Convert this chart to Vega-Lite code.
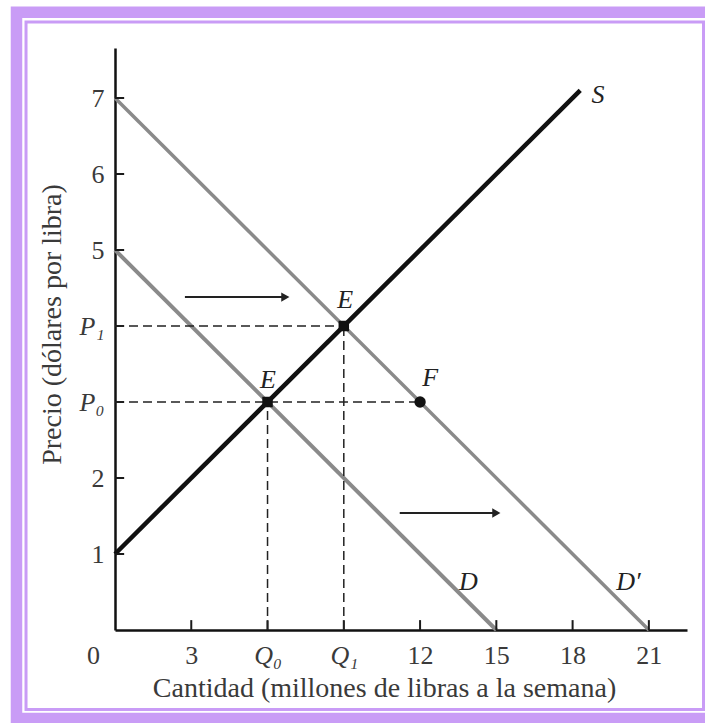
{
  "$schema": "https://vega.github.io/schema/vega-lite/v6.json",
  "width": 572,
  "height": 582,
  "autosize": "none",
  "padding": {"left": 115, "top": 48, "right": 18, "bottom": 93},
  "background": "white",
  "view": {"stroke": null},
  "config": {"font": "Liberation Serif"},
  "datasets": {
    "curves": [
      {"name": "S", "q": 0, "p": 1, "q2": 18.3, "p2": 7.1},
      {"name": "D", "q": 0, "p": 5, "q2": 15, "p2": 0},
      {"name": "D'", "q": 0, "p": 7, "q2": 21, "p2": 0}
    ],
    "guides": [
      {"q": 0, "p": 4, "q2": 9, "p2": 4},
      {"q": 0, "p": 3, "q2": 12, "p2": 3},
      {"q": 6, "p": 0, "q2": 6, "p2": 3},
      {"q": 9, "p": 0, "q2": 9, "p2": 4}
    ],
    "ticks": [
      {"q": 3, "p": 0, "q2": 3, "p2": 0.13},
      {"q": 6, "p": 0, "q2": 6, "p2": 0.13},
      {"q": 9, "p": 0, "q2": 9, "p2": 0.13},
      {"q": 12, "p": 0, "q2": 12, "p2": 0.13},
      {"q": 15, "p": 0, "q2": 15, "p2": 0.13},
      {"q": 18, "p": 0, "q2": 18, "p2": 0.13},
      {"q": 21, "p": 0, "q2": 21, "p2": 0.13},
      {"q": 0, "p": 1, "q2": 0.36, "p2": 1},
      {"q": 0, "p": 2, "q2": 0.36, "p2": 2},
      {"q": 0, "p": 3, "q2": 0.36, "p2": 3},
      {"q": 0, "p": 4, "q2": 0.36, "p2": 4},
      {"q": 0, "p": 5, "q2": 0.36, "p2": 5},
      {"q": 0, "p": 6, "q2": 0.36, "p2": 6},
      {"q": 0, "p": 7, "q2": 0.36, "p2": 7}
    ],
    "arrows": [
      {"q": 2.75, "p": 4.38, "q2": 6.7, "p2": 4.38},
      {"q": 11.2, "p": 1.54, "q2": 15.0, "p2": 1.54}
    ],
    "points": [
      {"name": "E0", "kind": "square", "q": 6, "p": 3},
      {"name": "E1", "kind": "square", "q": 9, "p": 4},
      {"name": "F", "kind": "circle", "q": 12, "p": 3}
    ],
    "labels": [
      {"label": "S", "q": 19.0, "p": 7.04},
      {"label": "D", "q": 13.9, "p": 0.63},
      {"label": "D′", "q": 20.2, "p": 0.63},
      {"label": "E", "q": 9.05, "p": 4.34},
      {"label": "E", "q": 6.02, "p": 3.29},
      {"label": "F", "q": 12.4, "p": 3.32}
    ],
    "frame": [{"id": 1}]
  },
  "layer": [
    {
      "data": {"name": "curves"},
      "mark": {"type": "rule", "strokeCap": "butt"},
      "encoding": {
        "x": {
          "field": "q", "type": "quantitative",
          "scale": {"domain": [0, 22.5], "nice": false, "zero": false},
          "title": "Cantidad (millones de libras a la semana)",
          "axis": {
            "values": [0, 3, 6, 9, 12, 15, 18, 21],
            "format": "d",
            "labelExpr": "datum.value == 6 ? 'Q₀' : datum.value == 9 ? 'Q₁' : datum.label",
            "labelFontStyle": {"condition": {"test": "datum.value == 6 || datum.value == 9", "value": "italic"}, "value": "normal"},
            "labelOffset": {"condition": {"test": "datum.value == 0", "value": -22}, "value": 0},
            "labelFont": "Liberation Serif",
            "labelFontSize": 26,
            "labelColor": "#3a3a3a",
            "labelPadding": 12,
            "labelBaseline": "top",
            "labelFlush": false,
            "domainColor": "#111111",
            "domainWidth": 2.5,
            "ticks": false,
            "grid": false,
            "titleFont": "Liberation Serif",
            "titleFontSize": 28,
            "titleFontWeight": "normal",
            "titleColor": "#3a3a3a",
            "titleX": 269,
            "titleY": 44,
            "titleBaseline": "top"
          }
        },
        "y": {
          "field": "p", "type": "quantitative",
          "scale": {"domain": [0, 7.658], "nice": false, "zero": false},
          "title": "Precio (dólares por libra)",
          "axis": {
            "values": [1, 2, 3, 4, 5, 6, 7],
            "format": "d",
            "labelExpr": "datum.value == 3 ? 'P₀' : datum.value == 4 ? 'P₁' : datum.label",
            "labelFontStyle": {"condition": {"test": "datum.value == 3 || datum.value == 4", "value": "italic"}, "value": "normal"},
            "labelFont": "Liberation Serif",
            "labelFontSize": 26,
            "labelColor": "#3a3a3a",
            "labelPadding": 11,
            "labelFlush": false,
            "domainColor": "#111111",
            "domainWidth": 2.5,
            "ticks": false,
            "grid": false,
            "titleFont": "Liberation Serif",
            "titleFontSize": 28,
            "titleFontWeight": "normal",
            "titleColor": "#3a3a3a",
            "titleX": -63,
            "titleY": 276,
            "titleBaseline": "middle"
          }
        },
        "x2": {"field": "q2"},
        "y2": {"field": "p2"},
        "color": {"field": "name", "type": "nominal", "scale": {"domain": ["S", "D", "D'"], "range": ["#111111", "#8a8a8a", "#8a8a8a"]}, "legend": null},
        "strokeWidth": {"field": "name", "type": "nominal", "scale": {"domain": ["S", "D", "D'"], "range": [4.5, 3.5, 3.5]}, "legend": null}
      }
    },
    {
      "data": {"name": "ticks"},
      "mark": {"type": "rule", "color": "#1a1a1a", "strokeWidth": 2},
      "encoding": {
        "x": {"field": "q", "type": "quantitative", "title": "Cantidad (millones de libras a la semana)"},
        "y": {"field": "p", "type": "quantitative", "title": "Precio (dólares por libra)"},
        "x2": {"field": "q2"},
        "y2": {"field": "p2"}
      }
    },
    {
      "data": {"name": "guides"},
      "mark": {"type": "rule", "color": "#222222", "strokeWidth": 1.5, "strokeDash": [9, 5]},
      "encoding": {
        "x": {"field": "q", "type": "quantitative", "title": "Cantidad (millones de libras a la semana)"},
        "y": {"field": "p", "type": "quantitative", "title": "Precio (dólares por libra)"},
        "x2": {"field": "q2"},
        "y2": {"field": "p2"}
      }
    },
    {
      "data": {"name": "arrows"},
      "mark": {"type": "rule", "color": "#222222", "strokeWidth": 2},
      "encoding": {
        "x": {"field": "q", "type": "quantitative", "title": "Cantidad (millones de libras a la semana)"},
        "y": {"field": "p", "type": "quantitative", "title": "Precio (dólares por libra)"},
        "x2": {"field": "q2"},
        "y2": {"field": "p2"}
      }
    },
    {
      "data": {"name": "arrows"},
      "mark": {"type": "point", "shape": "triangle-right", "filled": true, "color": "#222222", "size": 90, "opacity": 1},
      "encoding": {
        "x": {"field": "q2", "type": "quantitative", "title": "Cantidad (millones de libras a la semana)"},
        "y": {"field": "p2", "type": "quantitative", "title": "Precio (dólares por libra)"}
      }
    },
    {
      "data": {"name": "points"},
      "mark": {"type": "point", "filled": true, "color": "#111111", "opacity": 1},
      "encoding": {
        "x": {"field": "q", "type": "quantitative", "title": "Cantidad (millones de libras a la semana)"},
        "y": {"field": "p", "type": "quantitative", "title": "Precio (dólares por libra)"},
        "shape": {"field": "kind", "type": "nominal", "scale": {"domain": ["square", "circle"], "range": ["square", "circle"]}, "legend": null},
        "size": {"field": "kind", "type": "nominal", "scale": {"domain": ["square", "circle"], "range": [110, 130]}, "legend": null}
      }
    },
    {
      "data": {"name": "labels"},
      "mark": {"type": "text", "font": "Liberation Serif", "fontSize": 26, "fontStyle": "italic", "color": "#222222", "align": "center", "baseline": "middle"},
      "encoding": {
        "x": {"field": "q", "type": "quantitative", "title": "Cantidad (millones de libras a la semana)"},
        "y": {"field": "p", "type": "quantitative", "title": "Precio (dólares por libra)"},
        "text": {"field": "label", "type": "nominal"}
      }
    },
    {
      "data": {"name": "frame"},
      "mark": {"type": "rect", "filled": false, "stroke": "#c99cf6", "strokeWidth": 11.5},
      "encoding": {
        "x": {"datum": -3.875, "type": "quantitative", "title": "Cantidad (millones de libras a la semana)"},
        "x2": {"datum": 23.64},
        "y": {"datum": 8.13, "type": "quantitative", "title": "Precio (dólares por libra)"},
        "y2": {"datum": -1.164}
      }
    },
    {
      "data": {"name": "frame"},
      "mark": {"type": "rect", "filled": false, "stroke": "#c99cf6", "strokeWidth": 3},
      "encoding": {
        "x": {"datum": -3.5, "type": "quantitative", "title": "Cantidad (millones de libras a la semana)"},
        "x2": {"datum": 23.15},
        "y": {"datum": 8.0, "type": "quantitative", "title": "Precio (dólares por libra)"},
        "y2": {"datum": -1.046}
      }
    }
  ]
}
